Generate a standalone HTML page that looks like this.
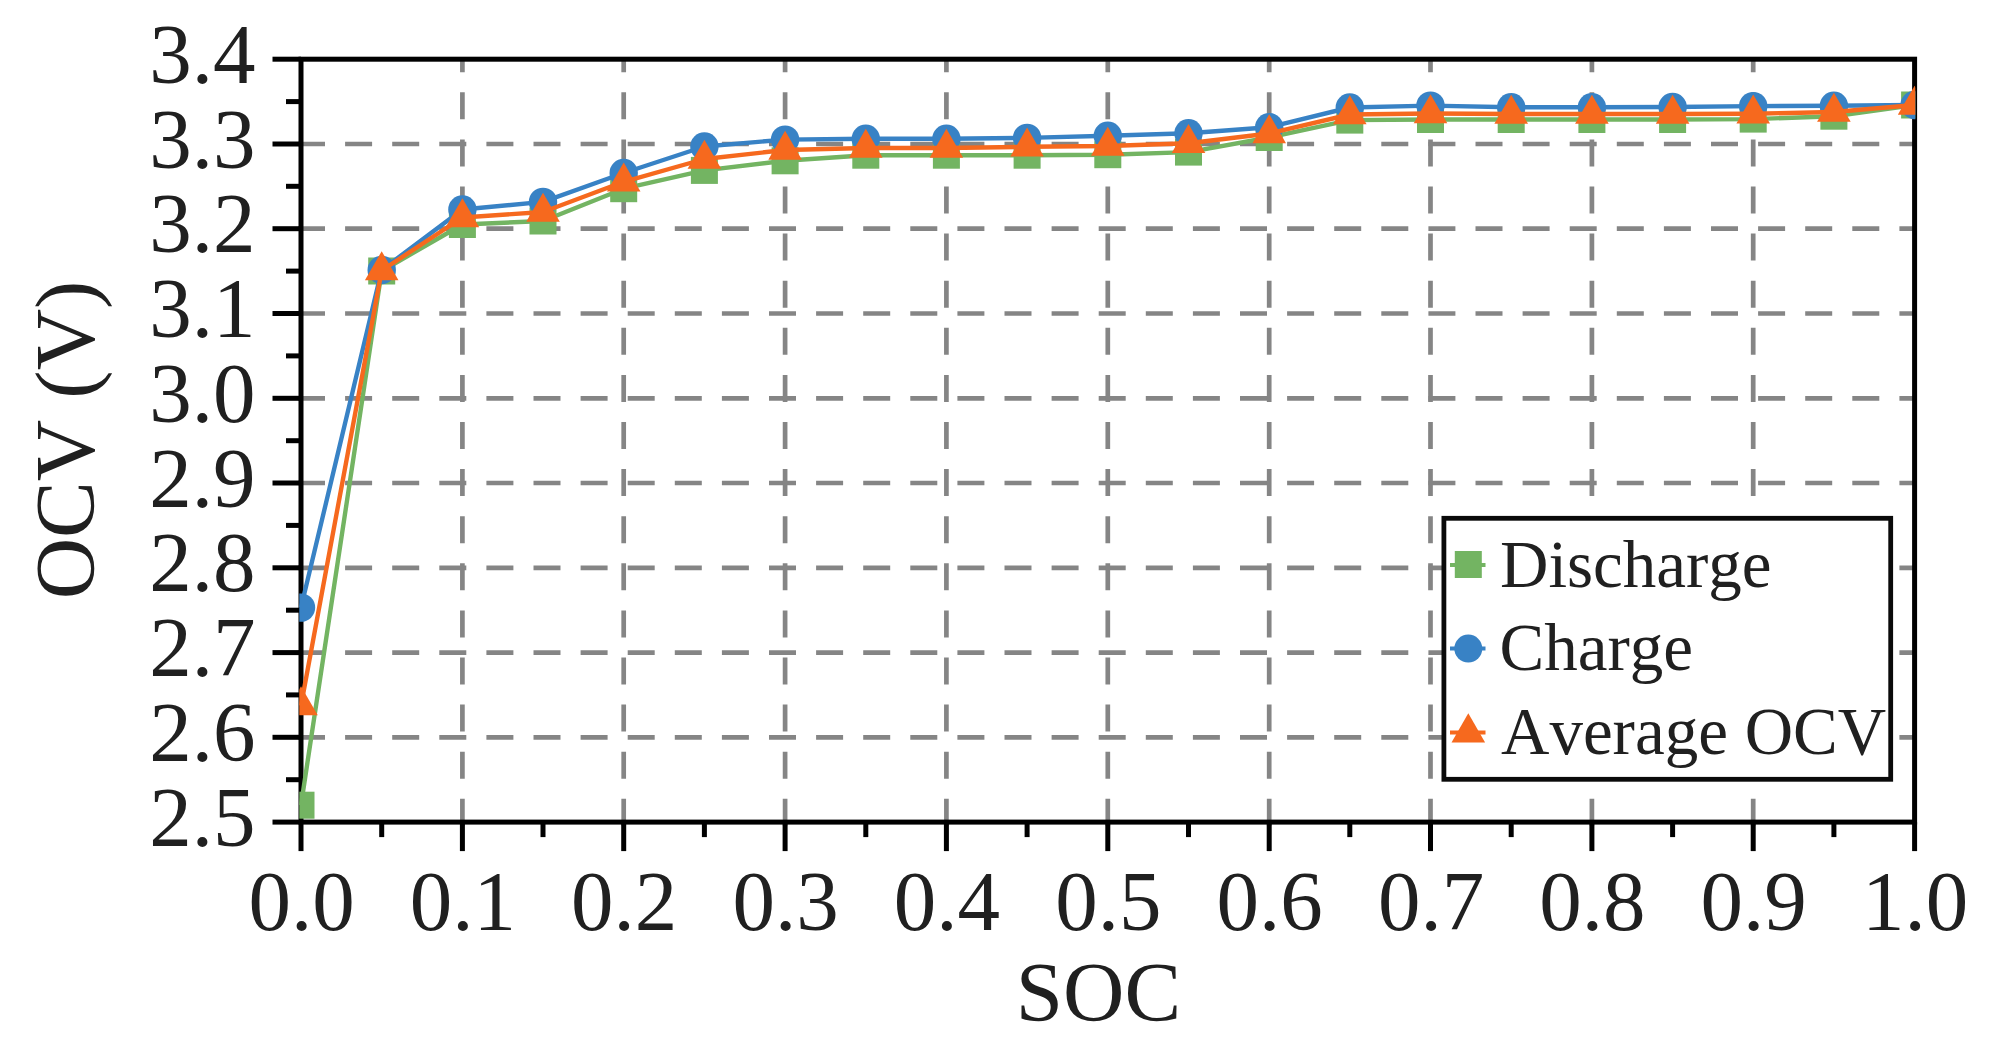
<!DOCTYPE html>
<html lang="en"><head><meta charset="utf-8"><title>OCV vs SOC</title>
<style>html,body{margin:0;padding:0;background:#fff;}body{width:1992px;height:1051px;overflow:hidden;}svg{display:block;}text{font-family:"Liberation Serif",serif;fill:#202020;font-kerning:none;}</style>
</head><body>
<svg width="1992" height="1051" viewBox="0 0 1992 1051">
<rect x="0" y="0" width="1992" height="1051" fill="#fff"/>
<defs><clipPath id="plot"><rect x="299.3" y="61.7" width="1616.0" height="757.9"/></clipPath></defs>
<g stroke="#858585" stroke-width="4.7" fill="none" stroke-dasharray="27 20.1">
<path d="M298.0 737.3H1914.6"/>
<path d="M298.0 652.6H1914.6"/>
<path d="M298.0 567.8H1914.6"/>
<path d="M298.0 483.0H1914.6"/>
<path d="M298.0 398.3H1914.6"/>
<path d="M298.0 313.5H1914.6"/>
<path d="M298.0 228.7H1914.6"/>
<path d="M298.0 144.0H1914.6"/>
<path d="M462.4 825.8V59.2"/>
<path d="M623.7 825.8V59.2"/>
<path d="M785.1 825.8V59.2"/>
<path d="M946.4 825.8V59.2"/>
<path d="M1107.8 825.8V59.2"/>
<path d="M1269.2 825.8V59.2"/>
<path d="M1430.5 825.8V59.2"/>
<path d="M1591.9 825.8V59.2"/>
<path d="M1753.2 825.8V59.2"/>
</g>
<g stroke="#000" stroke-width="5.0" fill="none">
<rect x="301.0" y="59.2" width="1613.6" height="762.9"/>
<path d="M272.5 822.1H301.0"/>
<path d="M272.5 737.3H301.0"/>
<path d="M272.5 652.6H301.0"/>
<path d="M272.5 567.8H301.0"/>
<path d="M272.5 483.0H301.0"/>
<path d="M272.5 398.3H301.0"/>
<path d="M272.5 313.5H301.0"/>
<path d="M272.5 228.7H301.0"/>
<path d="M272.5 144.0H301.0"/>
<path d="M272.5 59.2H301.0"/>
<path d="M286.0 779.7H301.0"/>
<path d="M286.0 694.9H301.0"/>
<path d="M286.0 610.2H301.0"/>
<path d="M286.0 525.4H301.0"/>
<path d="M286.0 440.7H301.0"/>
<path d="M286.0 355.9H301.0"/>
<path d="M286.0 271.1H301.0"/>
<path d="M286.0 186.3H301.0"/>
<path d="M286.0 101.6H301.0"/>
<path d="M301.0 822.1V851.1"/>
<path d="M462.4 822.1V851.1"/>
<path d="M623.7 822.1V851.1"/>
<path d="M785.1 822.1V851.1"/>
<path d="M946.4 822.1V851.1"/>
<path d="M1107.8 822.1V851.1"/>
<path d="M1269.2 822.1V851.1"/>
<path d="M1430.5 822.1V851.1"/>
<path d="M1591.9 822.1V851.1"/>
<path d="M1753.2 822.1V851.1"/>
<path d="M1914.6 822.1V851.1"/>
<path d="M381.7 822.1V837.1"/>
<path d="M543.0 822.1V837.1"/>
<path d="M704.4 822.1V837.1"/>
<path d="M865.8 822.1V837.1"/>
<path d="M1027.1 822.1V837.1"/>
<path d="M1188.5 822.1V837.1"/>
<path d="M1349.8 822.1V837.1"/>
<path d="M1511.2 822.1V837.1"/>
<path d="M1672.6 822.1V837.1"/>
<path d="M1833.9 822.1V837.1"/>
</g>
<g clip-path="url(#plot)">
<polyline points="301.0,805.2 381.7,271.0 462.4,224.5 543.0,221.0 623.7,188.7 704.4,170.4 785.1,160.8 865.8,155.2 946.4,155.2 1027.1,155.2 1107.8,154.7 1188.5,152.1 1269.2,137.5 1349.8,120.1 1430.5,119.5 1511.2,119.5 1591.9,119.5 1672.6,119.5 1753.2,119.1 1833.9,116.2 1914.6,105.0" fill="none" stroke="#73B462" stroke-width="4.4" stroke-linejoin="round"/>
<g fill="#73B462">
<rect x="287.5" y="791.7" width="27" height="27"/>
<rect x="368.2" y="257.5" width="27" height="27"/>
<rect x="448.9" y="211.0" width="27" height="27"/>
<rect x="529.5" y="207.5" width="27" height="27"/>
<rect x="610.2" y="175.2" width="27" height="27"/>
<rect x="690.9" y="156.9" width="27" height="27"/>
<rect x="771.6" y="147.3" width="27" height="27"/>
<rect x="852.3" y="141.7" width="27" height="27"/>
<rect x="932.9" y="141.7" width="27" height="27"/>
<rect x="1013.6" y="141.7" width="27" height="27"/>
<rect x="1094.3" y="141.2" width="27" height="27"/>
<rect x="1175.0" y="138.6" width="27" height="27"/>
<rect x="1255.7" y="124.0" width="27" height="27"/>
<rect x="1336.3" y="106.6" width="27" height="27"/>
<rect x="1417.0" y="106.0" width="27" height="27"/>
<rect x="1497.7" y="106.0" width="27" height="27"/>
<rect x="1578.4" y="106.0" width="27" height="27"/>
<rect x="1659.1" y="106.0" width="27" height="27"/>
<rect x="1739.7" y="105.6" width="27" height="27"/>
<rect x="1820.4" y="102.7" width="27" height="27"/>
<rect x="1901.1" y="91.5" width="27" height="27"/>
</g>
<polyline points="301.0,607.6 381.7,270.0 462.4,209.5 543.0,201.9 623.7,173.0 704.4,146.5 785.1,139.6 865.8,138.7 946.4,138.7 1027.1,137.9 1107.8,135.8 1188.5,133.3 1269.2,127.3 1349.8,107.5 1430.5,105.6 1511.2,107.3 1591.9,107.3 1672.6,107.0 1753.2,106.1 1833.9,105.8 1914.6,105.0" fill="none" stroke="#3882C5" stroke-width="4.4" stroke-linejoin="round"/>
<g fill="#3882C5">
<circle cx="301.0" cy="607.6" r="14.2"/>
<circle cx="381.7" cy="270.0" r="14.2"/>
<circle cx="462.4" cy="209.5" r="14.2"/>
<circle cx="543.0" cy="201.9" r="14.2"/>
<circle cx="623.7" cy="173.0" r="14.2"/>
<circle cx="704.4" cy="146.5" r="14.2"/>
<circle cx="785.1" cy="139.6" r="14.2"/>
<circle cx="865.8" cy="138.7" r="14.2"/>
<circle cx="946.4" cy="138.7" r="14.2"/>
<circle cx="1027.1" cy="137.9" r="14.2"/>
<circle cx="1107.8" cy="135.8" r="14.2"/>
<circle cx="1188.5" cy="133.3" r="14.2"/>
<circle cx="1269.2" cy="127.3" r="14.2"/>
<circle cx="1349.8" cy="107.5" r="14.2"/>
<circle cx="1430.5" cy="105.6" r="14.2"/>
<circle cx="1511.2" cy="107.3" r="14.2"/>
<circle cx="1591.9" cy="107.3" r="14.2"/>
<circle cx="1672.6" cy="107.0" r="14.2"/>
<circle cx="1753.2" cy="106.1" r="14.2"/>
<circle cx="1833.9" cy="105.8" r="14.2"/>
<circle cx="1914.6" cy="105.0" r="14.2"/>
</g>
<polyline points="301.0,705.5 381.7,270.5 462.4,217.5 543.0,212.0 623.7,181.8 704.4,159.0 785.1,150.0 865.8,148.0 946.4,148.0 1027.1,146.8 1107.8,146.0 1188.5,143.3 1269.2,133.5 1349.8,114.5 1430.5,113.5 1511.2,114.0 1591.9,114.0 1672.6,114.0 1753.2,113.7 1833.9,112.0 1914.6,105.0" fill="none" stroke="#F6691E" stroke-width="4.4" stroke-linejoin="round"/>
<g fill="#F6691E">
<path d="M301.0 686.2L317.8 715.3H284.2Z"/>
<path d="M381.7 251.2L398.5 280.3H364.9Z"/>
<path d="M462.4 198.2L479.2 227.3H445.6Z"/>
<path d="M543.0 192.7L559.8 221.8H526.2Z"/>
<path d="M623.7 162.5L640.5 191.6H606.9Z"/>
<path d="M704.4 139.7L721.2 168.8H687.6Z"/>
<path d="M785.1 130.7L801.9 159.8H768.3Z"/>
<path d="M865.8 128.7L882.6 157.8H849.0Z"/>
<path d="M946.4 128.7L963.2 157.8H929.6Z"/>
<path d="M1027.1 127.5L1043.9 156.6H1010.3Z"/>
<path d="M1107.8 126.7L1124.6 155.8H1091.0Z"/>
<path d="M1188.5 124.0L1205.3 153.1H1171.7Z"/>
<path d="M1269.2 114.2L1286.0 143.3H1252.4Z"/>
<path d="M1349.8 95.2L1366.6 124.3H1333.0Z"/>
<path d="M1430.5 94.2L1447.3 123.3H1413.7Z"/>
<path d="M1511.2 94.7L1528.0 123.8H1494.4Z"/>
<path d="M1591.9 94.7L1608.7 123.8H1575.1Z"/>
<path d="M1672.6 94.7L1689.4 123.8H1655.8Z"/>
<path d="M1753.2 94.4L1770.0 123.5H1736.4Z"/>
<path d="M1833.9 92.7L1850.7 121.8H1817.1Z"/>
<path d="M1914.6 85.7L1931.4 114.8H1897.8Z"/>
</g>
</g>
<g font-size="85">
<text x="255.5" y="845.6" text-anchor="end">2.5</text>
<text x="255.5" y="760.8" text-anchor="end">2.6</text>
<text x="255.5" y="676.1" text-anchor="end">2.7</text>
<text x="255.5" y="591.3" text-anchor="end">2.8</text>
<text x="255.5" y="506.5" text-anchor="end">2.9</text>
<text x="255.5" y="421.8" text-anchor="end">3.0</text>
<text x="255.5" y="337.0" text-anchor="end">3.1</text>
<text x="255.5" y="252.2" text-anchor="end">3.2</text>
<text x="255.5" y="167.5" text-anchor="end">3.3</text>
<text x="255.5" y="82.7" text-anchor="end">3.4</text>
<text x="301.5" y="929.5" text-anchor="middle">0.0</text>
<text x="462.9" y="929.5" text-anchor="middle">0.1</text>
<text x="624.2" y="929.5" text-anchor="middle">0.2</text>
<text x="785.6" y="929.5" text-anchor="middle">0.3</text>
<text x="946.9" y="929.5" text-anchor="middle">0.4</text>
<text x="1108.3" y="929.5" text-anchor="middle">0.5</text>
<text x="1269.7" y="929.5" text-anchor="middle">0.6</text>
<text x="1431.0" y="929.5" text-anchor="middle">0.7</text>
<text x="1592.4" y="929.5" text-anchor="middle">0.8</text>
<text x="1753.7" y="929.5" text-anchor="middle">0.9</text>
<text x="1915.1" y="929.5" text-anchor="middle">1.0</text>
<text x="1098.5" y="1021" text-anchor="middle">SOC</text>
<text transform="translate(94 440) rotate(-90)" text-anchor="middle">OCV (V)</text>
</g>
<rect x="1443.9" y="518.3" width="446.8" height="261" fill="#fff" stroke="#0a0a0a" stroke-width="4.8"/>
<g stroke-width="4">
<path d="M1450 565H1485.5" stroke="#73B462"/><rect x="1454.8" y="551" width="27" height="27" fill="#73B462"/>
<path d="M1450 648.6H1485.5" stroke="#3882C5"/><circle cx="1468.3" cy="648.6" r="14" fill="#3882C5"/>
<path d="M1450 732.6H1485.5" stroke="#F6691E"/><path d="M1468.3 713.3L1485.1 742.4H1451.5Z" fill="#F6691E"/>
</g>
<g font-size="67">
<text x="1500" y="586.5">Discharge</text>
<text x="1499.5" y="670">Charge</text>
<text x="1501" y="754">Average OCV</text>
</g>
</svg></body></html>
